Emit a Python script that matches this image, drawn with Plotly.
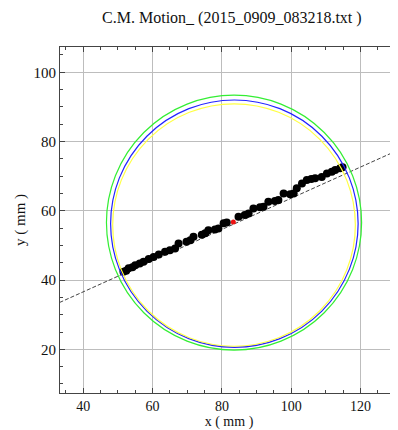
import plotly.graph_objects as go

# ---- data ----
title_text = "C.M. Motion_ (2015_0909_083218.txt )"
pts_x = [51.6, 52.4, 53.1, 54.2, 55.0, 56.3, 57.4, 58.9, 60.3, 61.8, 63.6, 65.0, 66.5, 67.5,
         69.8, 70.9, 71.8, 74.2, 75.2, 76.1, 78.0, 79.0, 80.5, 81.4, 84.8, 86.6, 87.7, 89.1,
         91.0, 92.0, 93.4, 95.3, 96.3, 97.8, 99.7, 100.7, 101.6, 103.1, 104.5, 105.8, 106.9,
         108.8, 110.3, 111.7, 112.7, 114.1, 114.8]
pts_y = [42.4, 42.7, 43.4, 43.7, 44.3, 44.8, 45.3, 46.1, 46.7, 47.4, 48.2, 48.6, 49.1, 50.6,
         51.1, 51.5, 52.5, 53.1, 53.5, 54.4, 54.6, 54.9, 56.4, 56.6, 58.3, 58.8, 59.2, 60.7,
         61.0, 61.2, 62.6, 62.8, 63.1, 65.0, 64.8, 65.0, 66.5, 67.9, 68.9, 69.2, 69.4,
         69.8, 70.8, 71.3, 71.8, 72.3, 72.6]
cm_x = [83.3]
cm_y = [56.8]
fit_x = [30.0, 135.0]
fit_y = [32.1, 79.4]
# circles: (cx, cy, r, color)
circle_cx = [83.5, 83.6, 83.5]
circle_cy = [56.6, 56.3, 55.9]
circle_r = [36.8, 35.7, 35.0]
circle_colors = ["#33ee33", "#2222ff", "#ffff44"]
x_ticks = [40, 60, 80, 100, 120]
y_ticks = [20, 40, 60, 80, 100]

fig = go.Figure()

for cx, cy, r, c in zip(circle_cx, circle_cy, circle_r, circle_colors):
    fig.add_shape(type="circle", xref="x", yref="y",
                  x0=cx - r, x1=cx + r, y0=cy - r, y1=cy + r,
                  line=dict(color=c, width=1.2))

fig.add_trace(go.Scatter(x=fit_x, y=fit_y, mode="lines",
                         line=dict(color="#444444", width=1, dash="4px,2px"),
                         showlegend=False, hoverinfo="skip"))
fig.add_trace(go.Scatter(x=pts_x, y=pts_y, mode="markers",
                         marker=dict(color="black", size=8),
                         showlegend=False))
fig.add_trace(go.Scatter(x=cm_x, y=cm_y, mode="markers",
                         marker=dict(color="#ee1111", size=5),
                         showlegend=False))

font_serif = "Liberation Serif, Times New Roman, serif"

# page body has an 8px margin, so figure is offset by (8, 8)
fig.update_layout(
    width=390, height=422,
    margin=dict(l=52, r=0, t=39, b=37),
    paper_bgcolor="white", plot_bgcolor="white",
    font=dict(family=font_serif, size=15, color="#111111"),
    title=dict(text=title_text, x=0.574, xanchor="center", y=0.978, yanchor="middle",
               font=dict(family=font_serif, size=16, color="#111111")),
    xaxis=dict(range=[33.3, 130.8], tickvals=x_ticks, ticks="inside", ticklen=5,
               tickcolor="#444444", showgrid=True, gridcolor="#bdbdbd", gridwidth=1,
               showline=True, linecolor="#444444", linewidth=1, mirror="ticks",
               zeroline=False,
               minor=dict(dtick=5, tick0=0, ticks="inside", ticklen=3, tickcolor="#444444",
                          showgrid=False),
               title=dict(text="x ( mm )", standoff=4, font=dict(size=14)),
               tickfont=dict(size=14)),
    yaxis=dict(range=[7.4, 107.3], tickvals=y_ticks, ticks="inside", ticklen=5,
               tickcolor="#444444", showgrid=True, gridcolor="#bdbdbd", gridwidth=1,
               showline=True, linecolor="#444444", linewidth=1, mirror=False,
               zeroline=False,
               minor=dict(dtick=5, tick0=0, ticks="inside", ticklen=3, tickcolor="#444444",
                          showgrid=False),
               title=dict(text="y ( mm )", standoff=4, font=dict(size=15)),
               tickfont=dict(size=15)),
)

fig.write_html("out.html")
